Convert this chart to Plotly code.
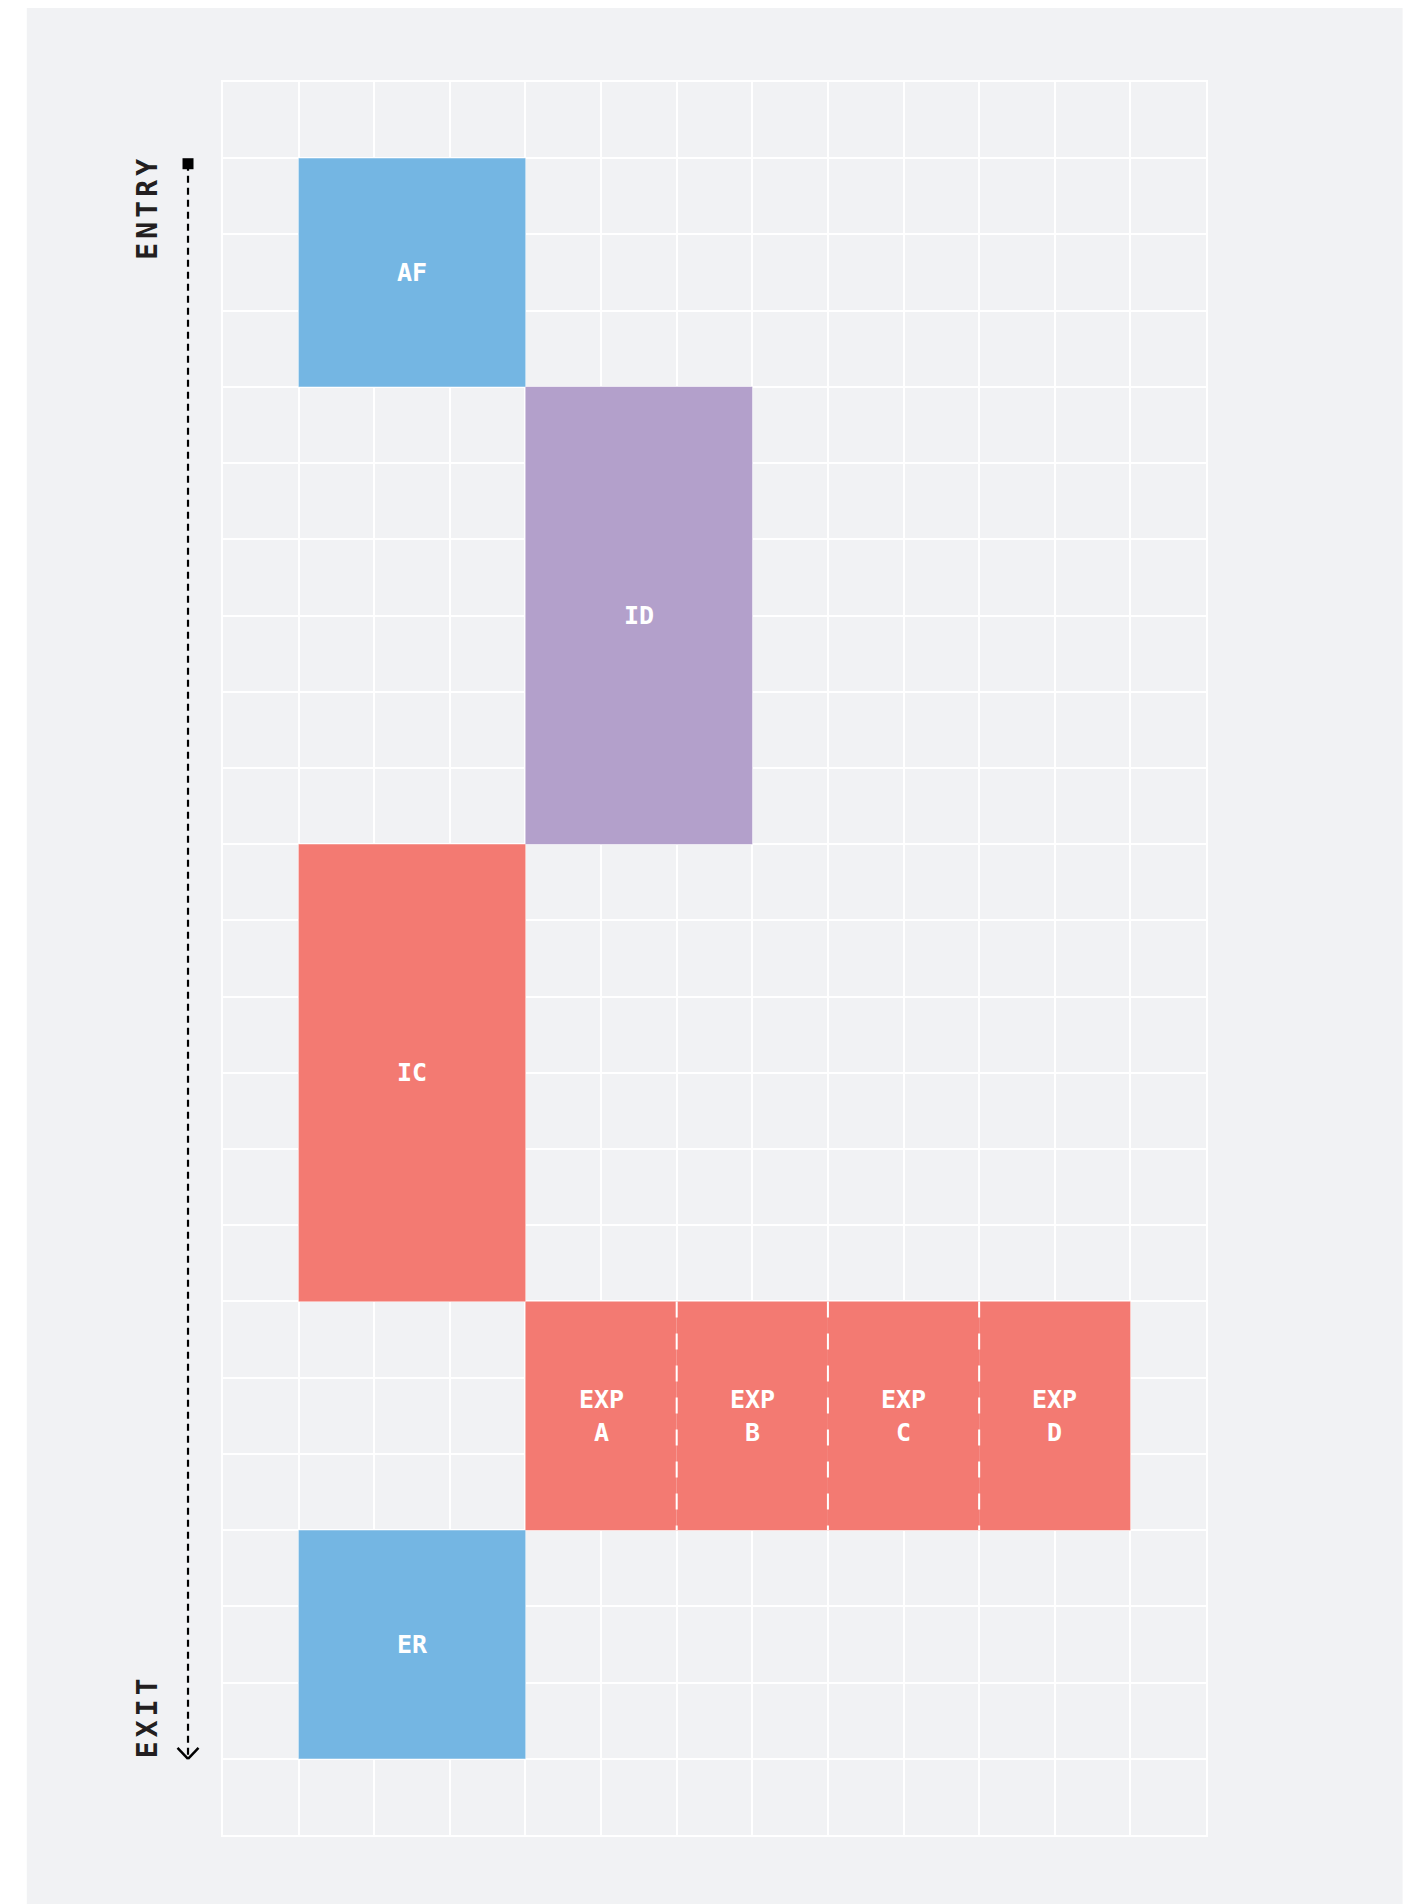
import plotly.graph_objects as go

# grid size (columns x rows)
n_cols = 13
n_rows = 23

# blocks: label, column span, row span
block_labels = ["AF", "ID", "IC", "EXP<br>A", "EXP<br>B", "EXP<br>C", "EXP<br>D", "ER"]
col_start = [1, 4, 1, 4, 6, 8, 10, 1]
col_end = [4, 7, 4, 6, 8, 10, 12, 4]
row_start = [1, 4, 10, 16, 16, 16, 16, 19]
row_end = [4, 10, 16, 19, 19, 19, 19, 22]
block_colors = ["#74B6E3", "#B3A0CB", "#F37A72", "#F37A72", "#F37A72", "#F37A72", "#F37A72", "#74B6E3"]

# dashed dividers inside the EXP strip
divider_cols = [6, 8, 10]
divider_rows = [16, 19]

# entry -> exit flow (rows), side labels
flow_rows = [1, 22]
entry_label = "ENTRY"
exit_label = "EXIT"

panel = "#F1F2F4"
ink = "#231F20"

# plot area in pixels (page body adds an 8px offset)
W, H = 1405, 1896
L, T = 215, 74
PW, PH = 983.3, 1753.3


def px_to_paper_x(px):
    return (px - L) / PW


flow_x = px_to_paper_x(180)
label_x = px_to_paper_x(139.5)
row_px = PH / n_rows

fig = go.Figure()

shapes = []
# background panel
shapes.append(dict(type="rect", xref="paper", yref="paper",
                   x0=-0.1996, x1=1.2, y0=-0.04, y1=1.045,
                   fillcolor=panel, line_width=0, layer="below"))

for i in range(len(block_labels)):
    shapes.append(dict(type="rect", xref="x", yref="y",
                       x0=col_start[i], x1=col_end[i],
                       y0=row_start[i], y1=row_end[i],
                       fillcolor=block_colors[i], line_width=0))

for c in divider_cols:
    shapes.append(dict(type="line", xref="x", yref="y",
                       x0=c, x1=c, y0=divider_rows[0], y1=divider_rows[1],
                       line=dict(color="white", width=2, dash="16px,16px")))

# dashed flow line with square start and open arrow head
start_y = flow_rows[0] + 5.5 / row_px
shapes.append(dict(type="line", xref="paper", yref="y",
                   x0=flow_x, x1=flow_x, y0=start_y, y1=flow_rows[1] - 0.02,
                   line=dict(color="black", width=2.2, dash="7px,5px")))
sq = 5.5
shapes.append(dict(type="rect", xref="paper", yref="y",
                   x0=flow_x - sq / PW, x1=flow_x + sq / PW,
                   y0=start_y - sq / row_px, y1=start_y + sq / row_px,
                   fillcolor="black", line_width=0))
ax, ay = 10.5 / PW, 11 / row_px
for side in (-1, 1):
    shapes.append(dict(type="line", xref="paper", yref="y",
                       x0=flow_x + side * ax, y0=flow_rows[1] - ay,
                       x1=flow_x, y1=flow_rows[1],
                       line=dict(color="black", width=2.5)))

annotations = []
for i, lab in enumerate(block_labels):
    annotations.append(dict(
        x=(col_start[i] + col_end[i]) / 2, y=(row_start[i] + row_end[i]) / 2,
        xref="x", yref="y", text=lab, showarrow=False,
        font=dict(family="DejaVu Sans Mono", size=25, color="white", weight="bold")))

# rotated side labels, laid out letter by letter for wide tracking
step = 21 / row_px
half = 9 / row_px
side_font = dict(family="DejaVu Sans Mono", size=28, color=ink, weight="bold")
for k, ch in enumerate(reversed(entry_label)):
    annotations.append(dict(
        x=label_x, y=flow_rows[0] + half + k * step, xref="paper", yref="y",
        xanchor="center", yanchor="middle",
        text=ch, showarrow=False, textangle=-90, font=side_font))
for k, ch in enumerate(exit_label):
    annotations.append(dict(
        x=label_x, y=flow_rows[1] - half - k * step, xref="paper", yref="y",
        xanchor="center", yanchor="middle",
        text=ch, showarrow=False, textangle=-90, font=side_font))

fig.update_layout(
    width=W, height=H,
    margin=dict(l=L, r=W - L - PW, t=T, b=H - T - PH),
    paper_bgcolor="white",
    plot_bgcolor=panel,
    shapes=shapes,
    annotations=annotations,
    showlegend=False,
)
fig.update_xaxes(range=[0, n_cols], dtick=1, tick0=0, showgrid=True,
                 gridcolor="white", gridwidth=1.5, showticklabels=False,
                 ticks="", zeroline=False, showline=True, mirror=True,
                 linecolor="white", linewidth=1.5, fixedrange=True)
fig.update_yaxes(range=[n_rows, 0], dtick=1, tick0=0, showgrid=True,
                 gridcolor="white", gridwidth=1.5, showticklabels=False,
                 ticks="", zeroline=False, showline=True, mirror=True,
                 linecolor="white", linewidth=1.5, fixedrange=True)

fig.write_html("out.html")
